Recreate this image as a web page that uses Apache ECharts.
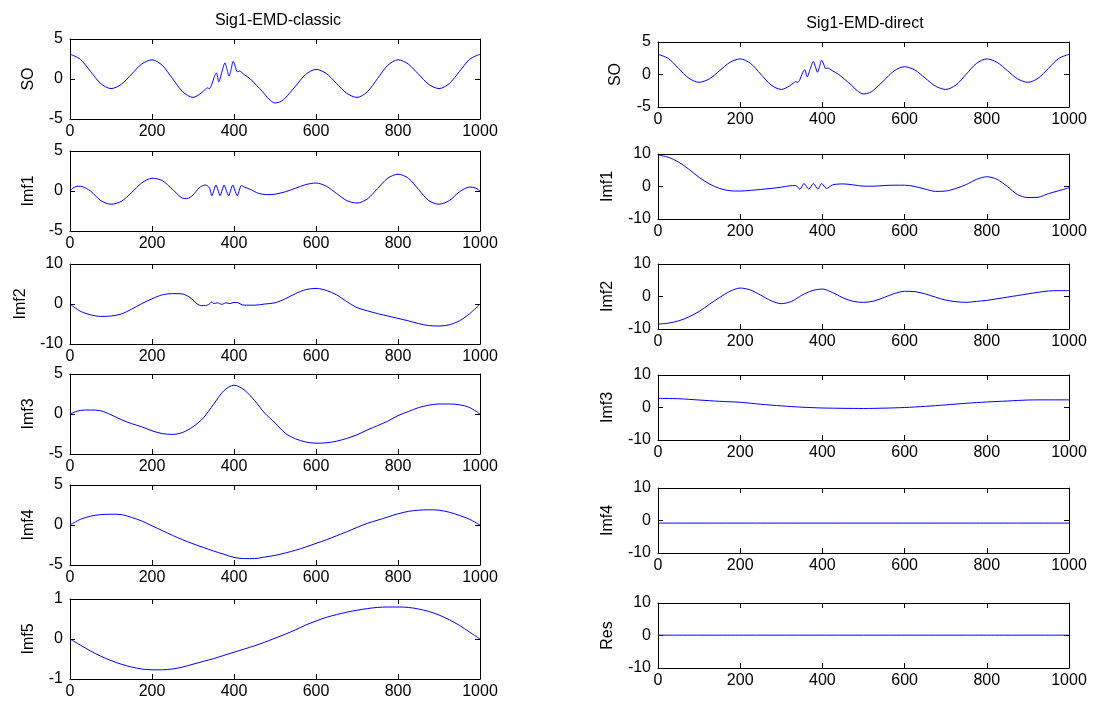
<!DOCTYPE html>
<html><head><meta charset="utf-8">
<script src="https://cdn.jsdelivr.net/npm/echarts/dist/echarts.min.js"></script>
<style>html,body{margin:0;padding:0;background:#fff}#c{width:1097px;height:707px}</style>
</head><body><div id="c"></div>
<script>
// ---------- data ----------
const titles = ['Sig1-EMD-classic', 'Sig1-EMD-direct'];
const xTicks = [0, 200, 400, 600, 800, 1000];

const so_x = [0,25,50,75,100,125,150,175,200,225,250,275,300,310,320,330,335,340,345,352,357,363,370,378,383,388,393,398,403,408,413,418,425,440,455,470,485,500,515,525,550,575,600,625,650,675,700,725,750,775,800,825,850,875,900,925,950,975,1000];
const so_y = [3.1,2.47,0.95,-0.57,-1.2,-0.67,0.6,1.87,2.4,1.71,0.05,-1.61,-2.3,-2.1,-1.75,-1.3,-1.1,-1.2,-0.8,0.3,0.75,-0.35,0.8,2.0,1.2,0.35,1.2,2.2,1.6,0.9,1.0,0.85,0.55,0.0,-0.8,-1.6,-2.5,-3.0,-2.8,-2.38,-0.9,0.58,1.2,0.69,-0.55,-1.79,-2.3,-1.61,0.05,1.71,2.4,1.87,0.6,-0.67,-1.2,-0.57,0.95,2.47,3.1];

const c_imf1_x = [0,10,20,30,50,75,100,125,150,175,200,225,250,275,285,300,315,330,340,346,351,356,361,366,371,376,381,387,392,397,402,408,413,418,425,440,460,480,500,525,550,575,600,625,650,675,700,725,750,775,800,825,850,875,900,925,950,975,990,1000];
const c_imf1_y = [0.05,0.45,0.6,0.55,0.0,-1.2,-1.65,-1.3,-0.2,1.0,1.6,1.3,0.2,-0.9,-0.95,-0.5,0.4,0.75,0.4,-0.6,0.1,0.75,0.1,-0.6,0.1,0.75,0.1,-0.6,0.1,0.75,0.1,-0.6,0.1,0.7,0.5,0.2,-0.3,-0.45,-0.4,-0.1,0.35,0.8,1.0,0.6,-0.3,-1.2,-1.5,-1.0,0.3,1.6,2.1,1.6,0.2,-1.2,-1.65,-1.2,-0.1,0.5,0.35,0.0];

const c_imf2_x = [0,25,50,75,100,125,150,175,200,225,250,275,290,300,310,320,330,340,345,350,360,370,380,390,400,410,420,430,450,475,500,525,550,575,600,625,650,675,700,725,750,775,800,825,850,875,900,925,950,975,1000];
const c_imf2_y = [0,-1.8,-2.7,-3.1,-3.0,-2.5,-1.3,0.1,1.3,2.3,2.6,2.5,1.8,1.0,0.0,-0.4,-0.4,0.0,0.5,0.1,0.3,-0.1,0.3,0.1,0.4,0.3,-0.2,-0.3,-0.3,0.0,0.3,1.3,2.6,3.6,3.9,3.4,2.3,0.6,-0.9,-1.7,-2.4,-3.0,-3.6,-4.2,-4.9,-5.4,-5.5,-5.2,-4.2,-2.4,0];

const c_imf3_x = [0,25,50,75,100,125,150,175,200,225,250,275,300,325,350,375,400,425,450,475,500,525,550,575,600,625,650,675,700,725,750,775,800,825,850,875,900,925,950,975,1000];
const c_imf3_y = [0,0.45,0.5,0.4,-0.1,-0.7,-1.2,-1.6,-2.1,-2.45,-2.55,-2.3,-1.6,-0.5,1.2,2.9,3.6,3.0,1.7,0.1,-1.1,-2.4,-3.1,-3.5,-3.65,-3.6,-3.4,-3.05,-2.6,-2.0,-1.45,-0.9,-0.2,0.3,0.8,1.1,1.25,1.25,1.15,0.8,0];

const c_imf4_x = [0,25,50,75,100,125,150,175,200,225,250,275,300,325,350,375,400,425,450,475,500,525,550,575,600,625,650,675,700,725,750,775,800,825,850,875,900,925,950,975,1000];
const c_imf4_y = [0,0.7,1.1,1.3,1.35,1.3,0.95,0.5,-0.1,-0.7,-1.3,-1.85,-2.35,-2.8,-3.25,-3.65,-4.05,-4.2,-4.2,-4.0,-3.8,-3.5,-3.15,-2.75,-2.3,-1.85,-1.35,-0.85,-0.3,0.2,0.6,1.0,1.4,1.7,1.85,1.9,1.85,1.6,1.2,0.7,0];

const c_imf5_x = [0,25,50,75,100,125,150,175,200,225,250,275,300,325,350,375,400,425,450,475,500,525,550,575,600,625,650,675,700,725,750,775,800,825,850,875,900,925,950,975,1000];
const c_imf5_y = [0,-0.15,-0.3,-0.43,-0.54,-0.63,-0.7,-0.75,-0.77,-0.77,-0.75,-0.7,-0.63,-0.56,-0.49,-0.41,-0.33,-0.25,-0.17,-0.08,0.02,0.12,0.23,0.35,0.45,0.54,0.61,0.67,0.72,0.76,0.79,0.8,0.8,0.79,0.75,0.69,0.6,0.48,0.34,0.17,0];

const d_imf1_x = [0,25,50,75,100,125,150,175,200,225,250,275,300,320,335,345,355,367,378,389,398,410,425,450,475,500,525,550,575,600,625,650,675,700,725,750,775,800,825,850,875,900,925,950,975,1000];
const d_imf1_y = [9.7,9.0,7.5,5.3,2.8,0.8,-0.6,-1.3,-1.4,-1.2,-0.9,-0.6,-0.2,0.2,0.3,-0.8,0.9,-0.8,0.9,-0.8,0.9,-0.6,0.5,0.8,0.5,0.1,0.1,0.3,0.4,0.4,0.0,-0.8,-1.5,-1.4,-0.6,0.6,2.2,3.0,2.2,0.0,-2.5,-3.4,-3.3,-2.2,-1.3,-0.4];

const d_imf2_x = [0,25,50,75,100,125,150,175,200,225,250,275,300,325,350,375,400,425,450,475,500,525,550,575,600,625,650,675,700,725,750,775,800,825,850,875,900,925,950,975,1000];
const d_imf2_y = [-8.5,-8.2,-7.5,-6.3,-4.6,-2.4,-0.3,1.6,2.6,2.0,0.4,-1.3,-2.2,-1.5,0.4,1.8,2.3,1.2,-0.4,-1.5,-1.8,-1.4,-0.3,0.9,1.6,1.5,0.8,-0.2,-1.1,-1.6,-1.8,-1.5,-1.2,-0.7,-0.2,0.3,0.8,1.3,1.7,1.8,1.8];

const d_imf3_x = [0,50,100,150,200,250,300,350,400,450,500,550,600,650,700,750,800,850,900,950,1000];
const d_imf3_y = [2.8,2.7,2.3,1.9,1.6,1.0,0.5,0.1,-0.15,-0.25,-0.3,-0.2,0.0,0.35,0.8,1.3,1.7,2.0,2.3,2.35,2.35];

const d_imf4_x = [0,250,500,750,1000];
const d_imf4_y = [-0.8,-0.8,-0.8,-0.8,-0.8];

const d_res_x = [0,250,500,750,1000];
const d_res_y = [0.1,0.1,0.1,0.1,0.1];

// ---------- panels ----------
const panels = [
  {col:0,row:0,name:'SO',  xs:so_x,     ys:so_y,     lim:5,  gap:33},
  {col:0,row:1,name:'Imf1',xs:c_imf1_x, ys:c_imf1_y, lim:5,  gap:33},
  {col:0,row:2,name:'Imf2',xs:c_imf2_x, ys:c_imf2_y, lim:10, gap:41},
  {col:0,row:3,name:'Imf3',xs:c_imf3_x, ys:c_imf3_y, lim:5,  gap:33},
  {col:0,row:4,name:'Imf4',xs:c_imf4_x, ys:c_imf4_y, lim:5,  gap:33},
  {col:0,row:5,name:'Imf5',xs:c_imf5_x, ys:c_imf5_y, lim:1,  gap:33},
  {col:1,row:0,name:'SO',  xs:so_x,     ys:so_y,     lim:5,  gap:34},
  {col:1,row:1,name:'Imf1',xs:d_imf1_x, ys:d_imf1_y, lim:10, gap:42},
  {col:1,row:2,name:'Imf2',xs:d_imf2_x, ys:d_imf2_y, lim:10, gap:42},
  {col:1,row:3,name:'Imf3',xs:d_imf3_x, ys:d_imf3_y, lim:10, gap:42},
  {col:1,row:4,name:'Imf4',xs:d_imf4_x, ys:d_imf4_y, lim:10, gap:42},
  {col:1,row:5,name:'Res', xs:d_res_x,  ys:d_res_y,  lim:10, gap:42}
];

const colLeft = [70, 658], colWidth = [410, 411];
const colTops = [[39,151,264,374,485,599],[42,154,264,375,488,603]];
const colHeight = [80, 65];
const FONT = 'Liberation Sans, Arial, Helvetica, sans-serif';
const AX = '#000';
const plain = v => String(v);

const grids = [], xAxes = [], yAxes = [], series = [];
panels.forEach((p, i) => {
  grids.push({left: colLeft[p.col], top: colTops[p.col][p.row], width: colWidth[p.col], height: colHeight[p.col], containLabel: false});
  const tick = {show: true, inside: true, length: 5, lineStyle: {color: AX, width: 1}};
  const line = {show: true, onZero: false, lineStyle: {color: AX, width: 1}};
  xAxes.push({type:'value', gridIndex:i, position:'bottom', min:xTicks[0], max:xTicks[xTicks.length-1], interval:xTicks[1]-xTicks[0],
    axisLine: line, axisTick: tick, splitLine:{show:false},
    axisLabel:{color:'#000', fontSize:16, fontFamily:FONT, margin:5, formatter:plain}});
  xAxes.push({type:'value', gridIndex:i, position:'top', min:xTicks[0], max:xTicks[xTicks.length-1], interval:xTicks[1]-xTicks[0],
    axisLine: line, axisTick: tick, splitLine:{show:false}, axisLabel:{show:false}});
  yAxes.push({type:'value', gridIndex:i, position:'left', min:-p.lim, max:p.lim, interval:p.lim,
    name:p.name, nameLocation:'middle', nameGap:p.gap, nameRotate:90,
    nameTextStyle:{color:'#000', fontSize:16, fontFamily:FONT},
    axisLine: line, axisTick: tick, splitLine:{show:false},
    axisLabel:{color:'#000', fontSize:16, fontFamily:FONT, margin:7, formatter:plain}});
  yAxes.push({type:'value', gridIndex:i, position:'right', min:-p.lim, max:p.lim, interval:p.lim,
    axisLine: line, axisTick: tick, splitLine:{show:false}, axisLabel:{show:false}});
  series.push({type:'line', xAxisIndex:2*i, yAxisIndex:2*i, data:p.xs.map((x,k)=>[x,p.ys[k]]),
    showSymbol:false, smooth:0.3, lineStyle:{color:'#0000ff', width:1}, itemStyle:{color:'#0000ff'}, silent:true, clip:true});
});

const chart = echarts.init(document.getElementById('c'), null, {renderer:'canvas'});
chart.setOption({
  animation:false,
  backgroundColor:'#fff',
  title:[
    {text:titles[0], left:273, top:8, textAlign:'center', textStyle:{fontSize:16, fontWeight:'normal', color:'#000', fontFamily:FONT}},
    {text:titles[1], left:860, top:11, textAlign:'center', textStyle:{fontSize:16, fontWeight:'normal', color:'#000', fontFamily:FONT}}
  ],
  grid:grids, xAxis:xAxes, yAxis:yAxes, series:series
});
</script></body></html>
